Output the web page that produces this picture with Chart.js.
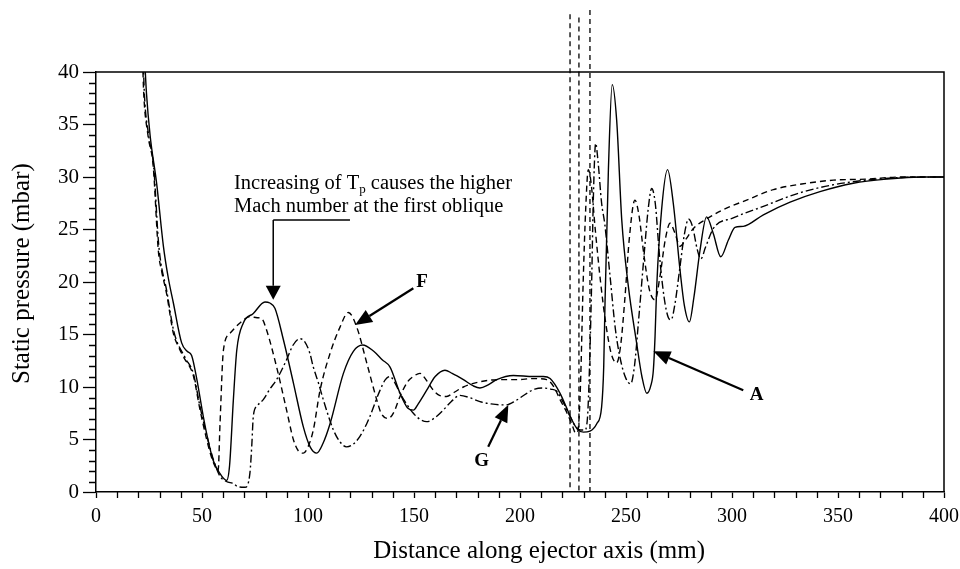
<!DOCTYPE html>
<html><head><meta charset="utf-8">
<script src="https://cdn.jsdelivr.net/npm/chart.js@4.4.1/dist/chart.umd.min.js"></script>
<style>html,body{margin:0;padding:0;background:#fff;}#wrap{width:960px;height:569px;}</style>
</head><body><div id="wrap"><canvas id="c" width="960" height="569"></canvas></div>
<script>
// ---- data (mm, mbar) ----
const solidX = [23,23.8,25.5,28.6,31.8,34,36.5,40.4,43,45.1,47.5,50.6,53,55.3,58,61.6,63,64.8,66.4,69.5,74.2,79.7,82,84.4,88.4,93.1,97.8,101,104.1,107,110.4,116.7,121.4,125.8,131,135,138.7,143.4,147,149.7,152,156,160,164.6,168,173.3,178,181.1,185,189,196.9,206.3,211,214.2,218.9,224.4,227,229.9,233,236.2,238.5,239.5,240.1,241.7,243.5,245.6,248,251.1,255,257.5,259.8,261.8,262.9,263.7,264.5,266.8,269.6,272.3,275.5,277.5,279.9,282,284.9,288,291.2,294.7,298.3,301.4,305.3,314.8,327.4,341.5,357.2,373,388.7,400];
const solidY = [41,38,34,29.4,23.4,20.5,18,14.2,13.4,13.0,10.8,7.2,4.8,3.0,1.9,1.1,2.5,8.8,13.5,16.1,17.0,18.1,18.0,17.5,14.5,10.4,6.2,4.3,3.7,4.6,6.5,11.3,13.4,14.0,13.4,12.6,11.9,9.4,8.0,7.8,8.4,9.7,11.0,11.6,11.3,10.7,10.1,9.9,10.2,10.7,11.1,11.0,11.0,10.8,9.4,6.9,6.0,5.7,5.8,6.5,8.1,12,18,30.7,38.8,35.4,25.9,19.6,14.2,11,9.4,10.2,11.6,14.8,19.6,26.9,30.7,27.5,21.1,17.8,16.2,18.5,23,26.2,24.6,22.4,24,25.2,25.3,26.4,27.6,28.6,29.4,29.8,30.0,30.0];

const dashedX = [22,22.5,24.5,27,29.4,31,33.3,36.5,39,42,44,45.9,49.1,52.2,54.5,56.5,57.6,58.5,60.1,63.2,67.9,72.6,76,78.2,80.5,85.2,89.9,93.1,95.5,97.8,100,102.5,105.7,110.4,115.1,119,123,127.7,132.4,134.5,137.9,140.5,143.4,147,149.7,152.8,156,159.1,162,165.4,169,173.3,181.1,190.6,198.4,206.3,212.6,216,218.9,222,224.4,226.3,227.3,228.5,229.8,231,232.2,233.5,235.5,238,240.5,243,245.6,247.5,249.5,251.5,254.2,256,258.5,261,263.7,266,268.5,270.8,273,275.5,278,281.8,288,295.9,306.9,319.5,335.2,347.8,363.5,380,400];
const dashedY = [41,38,34,31,23,21,18.9,15.1,13.8,12.6,12.0,11.1,7.8,5.0,3.3,2.3,2.0,6.5,13.5,15.1,16.1,16.7,16.6,16.5,15.4,11.9,7.8,5.0,3.9,3.7,4.3,5.9,9.7,13.2,15.7,17.1,15.7,12.3,8.8,7.5,7.0,7.6,9.1,10.5,11.0,11.3,10.6,9.7,9.2,9.1,9.5,10.0,10.5,10.7,10.7,10.8,10.7,10.0,8.8,7.6,6.5,5.6,5.8,10,20,27,30.7,29.5,25,20,16,13.2,12.3,14,18.5,24,27.8,26.5,22.5,19.3,18.3,20.5,24,25.6,24.7,23.4,24.0,25.1,26.0,26.9,27.8,28.8,29.4,29.7,29.8,30.0,30.0];

const dashDotX = [22.3,22.8,24.8,27.2,29.6,33.5,36.7,42,45.9,49,52.5,55.5,58.5,61.5,64.8,67,70.3,72.6,73.5,74.2,76,78.9,82,85.2,89.9,93,96.2,98.5,100.9,102.5,104.9,107.2,112,115,118.2,121,124.5,127.7,129.2,134,136.5,138.7,141,143.4,149.7,153,156,160,163.8,167.5,171.7,176,181.1,186,190.6,193.6,198,203.2,207,211,214.5,217.3,220.5,223.6,226,228.5,230.5,231.8,232.8,233.8,234.6,235.7,236.8,238.5,240,242.5,245,247.5,250,252.2,254,256,258.5,260.5,262.1,263.8,265.8,268,270,271.3,273,275.5,277.5,279.5,281.5,283.5,285.3,287.5,291.2,300.6,314.8,330.5,346.2,363.5,380,400];
const dashDotY = [41,38,34,31,23.5,19,15.3,12.8,11.3,8.2,5.2,3.0,1.5,1.0,0.8,0.5,0.45,1.8,4.5,7.2,8.2,8.8,9.8,10.7,12.6,14.0,14.6,14.3,13.2,11.9,10.4,8.8,5.9,4.8,4.3,4.5,5.3,6.5,7.2,9.7,10.7,11.0,10.4,9.4,7.5,6.9,6.7,7.1,7.8,8.6,9.2,9.0,8.6,8.4,8.3,8.3,8.7,9.4,9.8,9.9,9.8,9.6,8.5,7.2,6.3,5.9,5.9,7,12,20,28,33.2,31.5,27.5,25.5,20.5,15.5,12.5,10.8,10.3,12,16.5,22.5,27,28.9,27.5,22.5,18.5,16.6,16.4,17.8,21.5,24.5,26.0,25.2,23.2,22.2,23.3,25.1,26.1,27.2,28.4,29.2,29.7,29.95,30.0];

// vertical dashed reference lines (mm) and their top ends (mbar)
const refLineX = [223.6, 227.8, 233.0];
const refLineTop = [45.5, 45.2, 45.9];

const xTitle = 'Distance along ejector axis (mm)';
const yTitle = 'Static pressure (mbar)';
const noteLine1a = 'Increasing of T', noteSub = 'p', noteLine1b = ' causes the higher';
const noteLine2 = 'Mach number at the first oblique';

const FONT = "'Liberation Serif','Times New Roman',serif";

function pts(xs, ys){ return xs.map((x,i)=>({x:x, y:ys[i]})); }

function arrow(ctx, x1, y1, x2, y2, lw, hl, hw){
  const a = Math.atan2(y2-y1, x2-x1);
  const bx = x2 - hl*Math.cos(a), by = y2 - hl*Math.sin(a);
  ctx.lineWidth = lw;
  ctx.beginPath(); ctx.moveTo(x1,y1); ctx.lineTo(bx,by); ctx.stroke();
  ctx.beginPath(); ctx.moveTo(x2,y2);
  ctx.lineTo(bx + hw/2*Math.sin(a), by - hw/2*Math.cos(a));
  ctx.lineTo(bx - hw/2*Math.sin(a), by + hw/2*Math.cos(a));
  ctx.closePath(); ctx.fill();
}

const decor = {
  id: 'decor',
  afterDraw(chart){
    const {ctx, chartArea: a, scales: {x, y}} = chart;
    const X = v => x.getPixelForValue(v), Y = v => y.getPixelForValue(v);
    ctx.save();
    ctx.strokeStyle = '#000'; ctx.fillStyle = '#000';
    // frame top/right
    ctx.lineWidth = 1.5;
    ctx.beginPath(); ctx.moveTo(a.left, a.top); ctx.lineTo(a.right, a.top); ctx.lineTo(a.right, a.bottom); ctx.stroke();
    // minor ticks
    ctx.lineWidth = 1.3;
    ctx.beginPath();
    for (let v = 10; v < 400; v += 10){ if (v % 50 === 0) continue; const p = Math.round(X(v))+0.5; ctx.moveTo(p, a.bottom); ctx.lineTo(p, a.bottom+6); }
    for (let v = 1; v < 40; v += 1){ if (v % 5 === 0) continue; const p = Math.round(Y(v))+0.5; ctx.moveTo(a.left-7, p); ctx.lineTo(a.left, p); }
    ctx.stroke();
    // reference lines
    ctx.setLineDash([5,4]); ctx.lineWidth = 1.3;
    refLineX.forEach((v,i)=>{ const p = X(v); ctx.beginPath(); ctx.moveTo(p, Y(refLineTop[i])); ctx.lineTo(p, a.bottom); ctx.stroke(); });
    ctx.setLineDash([]);
    // axis titles
    ctx.font = '25px ' + FONT; ctx.textAlign = 'center'; ctx.textBaseline = 'middle';
    ctx.fillText(xTitle, X(209), 551);
    ctx.save(); ctx.translate(22, Y(20.8)); ctx.rotate(-Math.PI/2); ctx.fillText(yTitle, 0, 0); ctx.restore();
    // note text
    ctx.textAlign = 'left'; ctx.textBaseline = 'alphabetic';
    ctx.font = '20.5px ' + FONT;
    let tx = X(65.1); const ty1 = Y(28.86), ty2 = Y(26.7);
    ctx.fillText(noteLine1a, tx, ty1); tx += ctx.measureText(noteLine1a).width;
    ctx.font = '13px ' + FONT; ctx.fillText(noteSub, tx, ty1 + 4); tx += ctx.measureText(noteSub).width;
    ctx.font = '20.5px ' + FONT; ctx.fillText(noteLine1b, tx, ty1);
    ctx.fillText(noteLine2, X(65.1), ty2);
    // callout
    ctx.lineWidth = 1.5;
    ctx.beginPath(); ctx.moveTo(X(119.8), Y(25.9)); ctx.lineTo(X(83.6), Y(25.9)); ctx.stroke();
    arrow(ctx, X(83.6), Y(25.9), X(83.6), Y(18.3), 1.5, 14, 15);
    // F, G, A labels & arrows
    ctx.font = 'bold 19px ' + FONT; ctx.textAlign = 'center'; ctx.textBaseline = 'middle';
    ctx.fillText('F', X(153.8), Y(20.0));
    arrow(ctx, X(149.7), Y(19.4), X(122.2), Y(15.9), 2.2, 17, 14);
    ctx.fillText('G', X(181.9), Y(2.9));
    arrow(ctx, X(185), Y(4.3), X(194.5), Y(8.3), 2.2, 17, 14);
    ctx.fillText('A', X(311.6), Y(9.2));
    arrow(ctx, X(305.3), Y(9.7), X(262.9), Y(13.4), 2.2, 17, 14);
    ctx.restore();
  }
};

const common = {borderColor:'#000', borderWidth:1.4, pointRadius:0, fill:false, cubicInterpolationMode:'monotone'};

new Chart(document.getElementById('c'), {
  type: 'line',
  data: { datasets: [
    Object.assign({label:'A', data: pts(solidX, solidY)}, common),
    Object.assign({label:'F', data: pts(dashedX, dashedY), borderDash:[6,4]}, common),
    Object.assign({label:'G', data: pts(dashDotX, dashDotY), borderDash:[8,3,2,3]}, common)
  ]},
  options: {
    responsive:false, animation:false, devicePixelRatio:1,
    layout:{padding:{left:0, right:16, top:72, bottom:0}},
    plugins:{legend:{display:false}, tooltip:{enabled:false}},
    scales:{
      x:{type:'linear', min:0, max:400,
         afterFit(s){ s.height = 77; s.paddingLeft = 0; s.paddingRight = 0; },
         ticks:{stepSize:50, color:'#000', padding:7, font:{family:FONT, size:20}, maxRotation:0},
         grid:{display:true, drawOnChartArea:false, drawTicks:true, tickLength:6, tickWidth:1.3, tickColor:'#000'},
         border:{display:true, color:'#000', width:1.5}},
      y:{type:'linear', min:0, max:40,
         afterFit(s){ s.width = 96; s.paddingTop = 0; s.paddingBottom = 0; },
         ticks:{stepSize:5, color:'#000', padding:4, font:{family:FONT, size:21}},
         grid:{display:true, drawOnChartArea:false, drawTicks:true, tickLength:13, tickWidth:1.3, tickColor:'#000'},
         border:{display:true, color:'#000', width:1.5}}
    }
  },
  plugins:[decor]
});
</script></body></html>
